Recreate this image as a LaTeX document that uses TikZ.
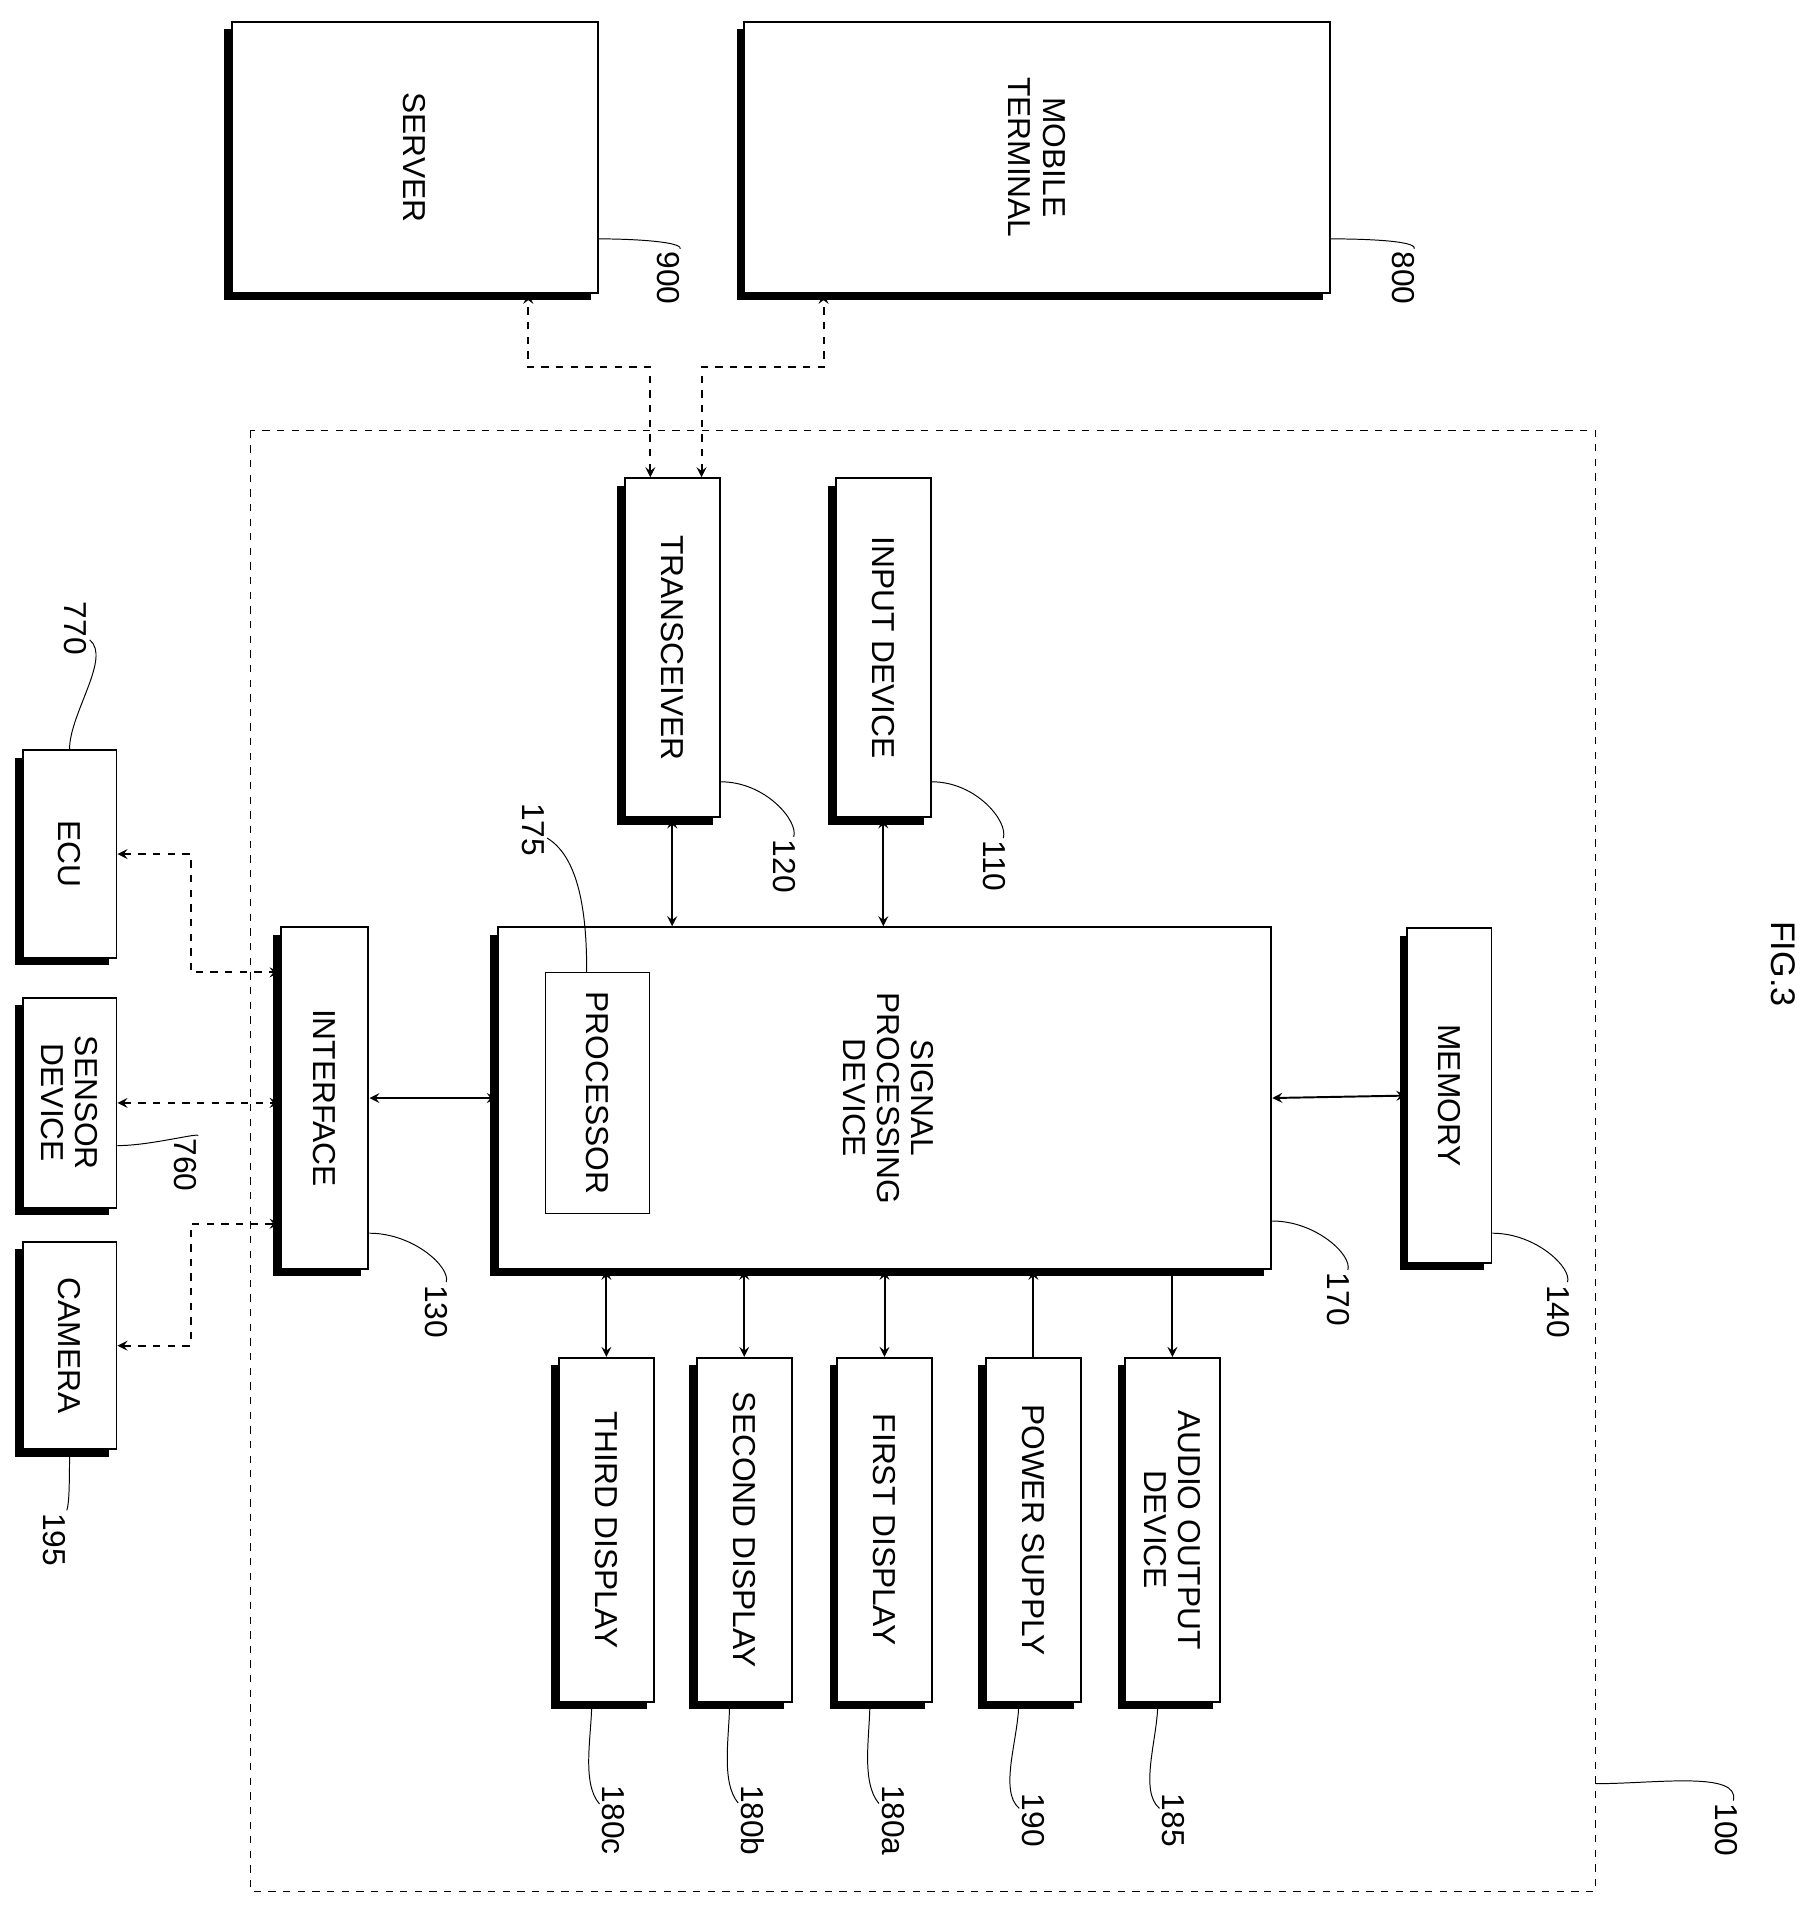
\documentclass[tikz,border=0pt]{standalone}
\usepackage{fontspec}
\setmainfont{Liberation Sans}
\usetikzlibrary{calc,shadows}
\begin{document}
\begin{tikzpicture}[x=0.5pt,y=-0.5pt,
  blk/.style={draw, thick, fill=white, inner sep=0pt,
    drop shadow={shadow xshift=-3pt, shadow yshift=-3pt, fill=black, opacity=1}},
  txt/.style={rotate=-90, font=\fontsize{13}{14}\selectfont, align=center},
  num/.style={rotate=-90, font=\fontsize{13}{14}\selectfont, inner sep=1pt},
  lead/.style={thin},
  bi/.style={<->, >=stealth, thick},
  uni/.style={->, >=stealth, thick},
  dbi/.style={<->, >=stealth, thick, dashed}]
 \useasboundingbox (0,0) rectangle (1490,1568);
  % external devices
  \node[blk, minimum width=150pt, minimum height=111pt] (srv) at (340,129) {};
  \node[txt] at (srv) {SERVER};
  \node[blk, minimum width=240pt, minimum height=111pt] (mob) at (850,129) {};
  \node[txt] at (mob) {MOBILE\\TERMINAL};
  \node[blk, minimum width=38.5pt, minimum height=85pt] (ecu) at (57,700) {};
  \node[txt] at (ecu) {ECU};
  \node[blk, minimum width=38.5pt, minimum height=86pt] (sen) at (57,904) {};
  \node[txt] at (sen) {SENSOR\\DEVICE};
  \node[blk, minimum width=38.5pt, minimum height=85pt] (cam) at (57,1103) {};
  \node[txt] at (cam) {CAMERA};
  % vehicle device
  \draw[dashed, thin] (205,353) rectangle (1308,1550);
  \node[blk, minimum width=39pt, minimum height=139pt] (trx) at (551,531) {};
  \node[txt] at (trx) {TRANSCEIVER};
  \node[blk, minimum width=39pt, minimum height=139pt] (inp) at (724,531) {};
  \node[txt] at (inp) {INPUT DEVICE};
  \node[blk, minimum width=317pt, minimum height=140pt] (spd) at (725,900) {};
  \node[txt] at (728,900) {SIGNAL\\PROCESSING\\DEVICE};
  \node[draw, thin, minimum width=42.5pt, minimum height=99pt] (proc) at (490,896) {};
  \node[txt] at (proc) {PROCESSOR};
  \node[blk, minimum width=34.5pt, minimum height=137pt] (mem) at (1188,898) {};
  \node[txt] at (mem) {MEMORY};
  \node[blk, minimum width=36pt, minimum height=140pt] (ifc) at (266,900) {};
  \node[txt] at (ifc) {INTERFACE};
  \node[blk, minimum width=39pt, minimum height=141pt] (thd) at (497,1254) {};
  \node[txt] at (thd) {THIRD DISPLAY};
  \node[blk, minimum width=39pt, minimum height=141pt] (sec) at (610,1254) {};
  \node[txt] at (sec) {SECOND DISPLAY};
  \node[blk, minimum width=39pt, minimum height=141pt] (fst) at (725,1254) {};
  \node[txt] at (fst) {FIRST DISPLAY};
  \node[blk, minimum width=39pt, minimum height=141pt] (pwr) at (847,1254) {};
  \node[txt] at (pwr) {POWER SUPPLY};
  \node[blk, minimum width=39pt, minimum height=141pt] (aud) at (961,1254) {};
  \node[txt] at (aud) {AUDIO OUTPUT\\DEVICE};
  % connectors
  \draw[dbi] ($(trx.north)+(-18,0)$) -- ++(0,-90) -| ($(srv.south)+(93,0)$);
  \draw[dbi] ($(trx.north)+(24,0)$) -- ++(0,-90) -| ($(mob.south)+(-175,0)$);
  \draw[bi] (trx.south) -- (trx.south |- spd.north);
  \draw[bi] (inp.south) -- (inp.south |- spd.north);
  \draw[bi] (ifc.east) -- (spd.west);
  \draw[bi] (spd.east) -- (mem.west);
  \draw[dbi] (ecu.east) -- ++(60,0) |- ($(ifc.west)+(0,-103)$);
  \draw[dbi] (sen.east) -- (sen.east -| ifc.west);
  \draw[dbi] (cam.east) -- ++(60,0) |- ($(ifc.west)+(0,103)$);
  \draw[bi] (thd.north) -- (thd.north |- spd.south);
  \draw[bi] (sec.north) -- (sec.north |- spd.south);
  \draw[bi] (fst.north) -- (fst.north |- spd.south);
  \draw[uni] (pwr.north) -- (pwr.north |- spd.south);
  \draw[uni] (aud.north |- spd.south) -- (aud.north);
  % reference numerals
  \node[num] (l900) at (548,228) {900};
  \node[num] (l800) at (1150,228) {800};
  \node[num] (l100) at (1415,1500) {100};
  \node[num] (l120) at (643,710) {120};
  \node[num] (l110) at (815,710) {110};
  \node[num] (l175) at (437,680) {175};
  \node[num] (l170) at (1097,1065) {170};
  \node[num] (l140) at (1277,1075) {140};
  \node[num] (l130) at (358,1075) {130};
  \node[num] (l770) at (62,515) {770};
  \node[num] (l760) at (152,955) {760};
  \node[num] (l195) at (45,1262) {195};
  \node[num] (l180c) at (503,1492) {180c};
  \node[num] (l180b) at (617,1492) {180b};
  \node[num] (l180a) at (732,1492) {180a};
  \node[num] (l190) at (847,1492) {190};
  \node[num] (l185) at (962,1492) {185};
  \node[rotate=-90, font=\fontsize{14}{15}\selectfont] (fig) at (1462,790) {FIG.3};
  \draw[lead] ($(srv.south east)+(0,-45)$) to[out=0,in=90] (l900);
  \draw[lead] ($(mob.south east)+(0,-45)$) to[out=0,in=90] (l800);
  \draw[lead] (1308,1462) to[out=0,in=90] (l100);
  \draw[lead] ($(trx.south east)+(0,-30)$) to[out=0,in=90] (l120);
  \draw[lead] ($(inp.south east)+(0,-30)$) to[out=0,in=90] (l110);
  \draw[lead] (l175) to[out=0,in=90] ($(proc.north east)+(-52,0)$);
  \draw[lead] ($(spd.south east)+(0,-40)$) to[out=0,in=90] (l170);
  \draw[lead] ($(mem.south east)+(0,-25)$) to[out=0,in=90] (l140);
  \draw[lead] ($(ifc.south east)+(0,-30)$) to[out=0,in=90] (l130);
  \draw[lead] (l770) to[out=0,in=90] (ecu.north);
  \draw[lead] ($(sen.east)+(0,35)$) to[out=0,in=90] (l760);
  \draw[lead] (cam.south) to[out=-90,in=90] (l195);
  \draw[lead] ($(thd.south)+(-12,0)$) to[out=-90,in=180] (l180c);
  \draw[lead] ($(sec.south)+(-12,0)$) to[out=-90,in=180] (l180b);
  \draw[lead] ($(fst.south)+(-12,0)$) to[out=-90,in=180] (l180a);
  \draw[lead] ($(pwr.south)+(-12,0)$) to[out=-90,in=180] (l190);
  \draw[lead] ($(aud.south)+(-12,0)$) to[out=-90,in=180] (l185);
\end{tikzpicture}
\end{document}
